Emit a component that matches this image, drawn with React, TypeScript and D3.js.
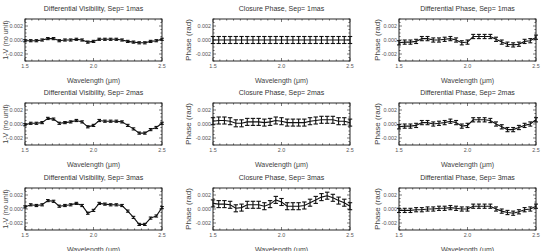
import React from "react";
import * as d3 from "d3";

// wavelength grid (µm)
const wavelengths = [1.5, 1.5417, 1.5833, 1.625, 1.6667, 1.7083, 1.75, 1.7917, 1.8333, 1.875, 1.9167, 1.9583, 2.0, 2.0417, 2.0833, 2.125, 2.1667, 2.2083, 2.25, 2.2917, 2.3333, 2.375, 2.4167, 2.4583, 2.5];

const separations = ["1mas", "2mas", "3mas"];

// differential visibility 1-V
const dv1 = [-0.0001, -0.0001, -0.0001, 0.0, 0.0002, 0.0002, -0.0001, 0.0, 0.0, 0.0001, 0.0, -0.0003, -0.0002, 0.0001, 0.0001, 0.0001, 0.0001, 0.0, -0.0002, -0.0003, -0.0004, -0.0004, -0.0002, -0.0001, 0.0001];
const dv2 = [-0.0001, 0.0001, 0.0001, 0.0002, 0.0008, 0.0007, 0.0001, 0.0002, 0.0003, 0.0005, 0.0003, -0.0004, -0.0002, 0.0005, 0.0004, 0.0004, 0.0004, 0.0003, -0.0002, -0.0007, -0.0013, -0.0013, -0.0008, -0.0005, 0.0001];
const dv3 = [0.0003, 0.0006, 0.0005, 0.0006, 0.0012, 0.0011, 0.0004, 0.0005, 0.0006, 0.0008, 0.0005, -0.0006, -0.0002, 0.0008, 0.0007, 0.0006, 0.0006, 0.0005, -0.0003, -0.0012, -0.0022, -0.0022, -0.0013, -0.001, 0.0002];

// closure phase (rad)
const cp1 = [0.0, 0.0, 0.0, 0.0, 0.0, 0.0, 0.0, 0.0, 0.0, 0.0, 0.0, 0.0, 0.0, 0.0, 0.0, 0.0, 0.0, 0.0, 0.0, 0.0, 0.0, 0.0, 0.0, 0.0, 0.0];
const cp2 = [0.0004, 0.0005, 0.0005, 0.0004, 0.0001, 0.0001, 0.0003, 0.0003, 0.0003, 0.0002, 0.0003, 0.0005, 0.0004, 0.0002, 0.0002, 0.0002, 0.0002, 0.0004, 0.0005, 0.0006, 0.0006, 0.0006, 0.0004, 0.0004, 0.0002];
const cp3 = [0.0008, 0.0007, 0.0007, 0.0006, 0.0001, 0.0002, 0.0006, 0.0006, 0.0006, 0.0004, 0.0007, 0.0013, 0.001, 0.0004, 0.0004, 0.0004, 0.0005, 0.0009, 0.0013, 0.0017, 0.0019, 0.0016, 0.0012, 0.0009, 0.0004];

// differential phase (rad)
const dp1 = [-0.0004, -0.0003, -0.0003, -0.0002, 0.0002, 0.0002, 0.0, 0.0, 0.0001, 0.0002, 0.0, -0.0004, -0.0003, 0.0005, 0.0005, 0.0005, 0.0005, 0.0001, -0.0003, -0.0006, -0.0007, -0.0006, -0.0002, -0.0001, 0.0004];
const dp2 = [-0.0004, -0.0003, -0.0003, -0.0002, 0.0002, 0.0002, 0.0, 0.0001, 0.0002, 0.0004, 0.0002, -0.0003, -0.0002, 0.0006, 0.0006, 0.0006, 0.0005, 0.0, -0.0004, -0.0008, -0.0008, -0.0005, -0.0002, 0.0, 0.0006];
const dp3 = [-0.0002, -0.0002, -0.0002, -0.0001, -0.0001, 0.0, 0.0, 0.0001, 0.0001, 0.0002, 0.0001, 0.0, 0.0, 0.0004, 0.0004, 0.0004, 0.0004, 0.0, -0.0003, -0.0005, -0.0006, -0.0004, -0.0001, 0.0, 0.0004];

const dvErr = 0.00015;
const cpErr = 0.0005;
const dpErr = 0.0003;

const xTickLabels = [1.5, 2.0, 2.5];
const yTickLabels = [-0.002, 0.0, 0.002];

const FONT = "'Liberation Sans', Arial, sans-serif";

const columns = [
  { kind: "Differential Visibility", ylabel: "1-V (no unit)", ylSize: 7.2, series: [dv1, dv2, dv3], err: dvErr, cap: 1.8 },
  { kind: "Closure Phase", ylabel: "Phase (rad)", ylSize: 8, series: [cp1, cp2, cp3], err: cpErr, cap: 2.2 },
  { kind: "Differential Phase", ylabel: "Phase (rad)", ylSize: 8, series: [dp1, dp2, dp3], err: dpErr, cap: 2 },
];

const colLeft = [25, 213, 399];
const ylabelX = [5, 188, 377];
const rowTop = [19, 103, 188];
const W = 137;
const H = 42;

const Panel = ({ x0, y0, title, ylabel, ylSize, ylx, values, err, cap }) => {
  const x = d3.scaleLinear().domain([1.5, 2.5]).range([0, W]);
  const y = d3.scaleLinear().domain([-0.003, 0.003]).range([H, 0]);
  const line = d3.line().x((d, i) => x(wavelengths[i])).y((d) => y(d));
  const minorX = d3.range(1.5, 2.5001, 0.05);
  const minorY = d3.range(-0.003, 0.00301, 0.0005);
  const isMajorX = (v) => xTickLabels.some((t) => Math.abs(t - v) < 1e-6);
  const isMajorY = (v) => yTickLabels.some((t) => Math.abs(t - v) < 1e-9);
  return (
    <g transform={`translate(${x0},${y0})`}>
      <text x={W / 2} y={-8.5} textAnchor="middle" fontSize={7} fill="#333" fontFamily={FONT}>{title}</text>
      <text transform={`translate(${ylx - x0},${H / 2}) rotate(-90)`} textAnchor="middle" dy="0.35em" fontSize={ylSize} fill="#444" fontFamily={FONT}>{ylabel}</text>
      <text x={W / 2} y={H + 21.5} textAnchor="middle" fontSize={7} fill="#444" fontFamily={FONT}>Wavelength (μm)</text>
      {minorX.map((v, i) => {
        const len = isMajorX(v) ? 3 : 1.6;
        return (
          <g key={"xt" + i} stroke="#222" strokeWidth={0.6}>
            <line x1={x(v)} x2={x(v)} y1={H} y2={H - len} />
            <line x1={x(v)} x2={x(v)} y1={0} y2={len} />
          </g>
        );
      })}
      {minorY.map((v, i) => {
        const len = isMajorY(v) ? 3 : 1.6;
        return (
          <g key={"yt" + i} stroke="#222" strokeWidth={0.6}>
            <line x1={0} x2={len} y1={y(v)} y2={y(v)} />
            <line x1={W} x2={W - len} y1={y(v)} y2={y(v)} />
          </g>
        );
      })}
      {xTickLabels.map((v) => (
        <text key={"xl" + v} x={x(v)} y={H + 7} textAnchor="middle" fontSize={5.4} fill="#555" fontFamily={FONT}>{v.toFixed(1)}</text>
      ))}
      {yTickLabels.map((v) => (
        <text key={"yl" + v} x={-2} y={y(v)} dy="0.35em" textAnchor="end" fontSize={5.4} fill="#555" fontFamily={FONT}>{v.toFixed(3)}</text>
      ))}
      <path d={line(values)} fill="none" stroke="#111" strokeWidth={1.1} />
      {values.map((v, i) => {
        const cx = x(wavelengths[i]);
        return (
          <g key={"e" + i} stroke="#111" strokeWidth={1.1}>
            <line x1={cx} x2={cx} y1={y(v - err)} y2={y(v + err)} />
            <line x1={cx - cap} x2={cx + cap} y1={y(v - err)} y2={y(v - err)} />
            <line x1={cx - cap} x2={cx + cap} y1={y(v + err)} y2={y(v + err)} />
          </g>
        );
      })}
      <rect x={0} y={0} width={W} height={H} fill="none" stroke="#111" strokeWidth={0.9} />
    </g>
  );
};

const App = () => {
  return (
    <svg width={543} height={251} style={{ position: "absolute", left: 0, top: 0, background: "#fff" }}>
      {separations.map((sep, r) =>
        columns.map((c, ci) => (
          <Panel
            key={r + "-" + ci}
            x0={colLeft[ci]}
            y0={rowTop[r]}
            title={`${c.kind}, Sep= ${sep}`}
            ylabel={c.ylabel}
            ylSize={c.ylSize}
            ylx={ylabelX[ci]}
            values={c.series[r]}
            err={c.err}
            cap={c.cap}
          />
        ))
      )}
    </svg>
  );
};

export default App;
